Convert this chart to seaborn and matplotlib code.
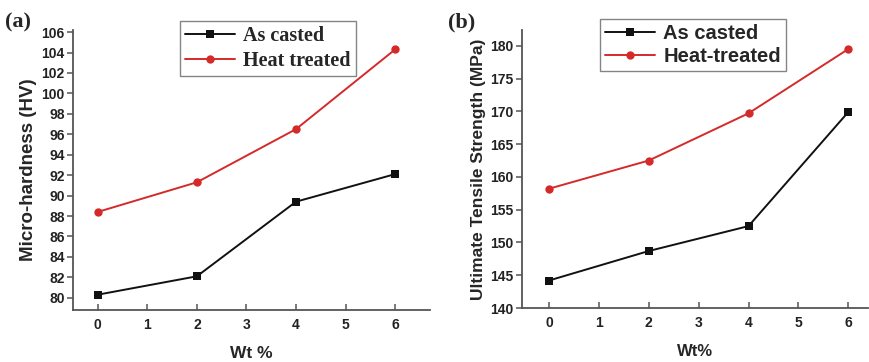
import matplotlib
matplotlib.use("Agg")
import matplotlib.pyplot as plt
import seaborn as sns
import pandas as pd

wt = [0, 2, 4, 6]
hard_cast = [80.3, 82.1, 89.4, 92.1]
hard_heat = [88.4, 91.3, 96.5, 104.3]
uts_cast = [144.2, 148.7, 152.5, 169.9]
uts_heat = [158.2, 162.5, 169.7, 179.5]
x_ticks = [0, 1, 2, 3, 4, 5, 6]
hard_ticks = list(range(80, 107, 2))
uts_ticks = list(range(140, 181, 5))

sns.set_style("ticks")
plt.rcParams['font.family'] = ['Liberation Sans', 'DejaVu Sans']
plt.rcParams['font.weight'] = 'bold'
plt.rcParams['axes.labelweight'] = 'bold'

def make_df(cast, heat, names):
    return pd.DataFrame({
        'wt': wt + wt,
        'val': cast + heat,
        'series': [names[0]] * len(wt) + [names[1]] * len(wt),
    })

fig = plt.figure(figsize=(8.7, 3.62), dpi=100)
axA = fig.add_axes([0.0839, 0.1436, 0.4101, 0.7734])
axB = fig.add_axes([0.600, 0.149, 0.398, 0.768])

SPINE = '#555555'
BLACK = '#111111'
RED = '#d42a2a'

def style_axes(ax, yticks, ylim, xlim):
    ax.set_xlim(*xlim)
    ax.set_ylim(*ylim)
    ax.set_xticks(x_ticks)
    ax.set_yticks(yticks)
    for s in ['top', 'right']:
        ax.spines[s].set_visible(False)
    for s in ['left', 'bottom']:
        ax.spines[s].set_color(SPINE)
        ax.spines[s].set_linewidth(1.3)
    ax.tick_params(axis='x', direction='in', length=4, width=1.1, color=SPINE,
                   labelsize=10, pad=6, labelcolor='#222222')
    ax.tick_params(axis='y', direction='out', length=4, width=1.1, color=SPINE,
                   labelsize=10, pad=2, labelcolor='#222222')

# Panel (a)
namesA = ['As casted', 'Heat treated']
dfA = make_df(hard_cast, hard_heat, namesA)
sns.lineplot(data=dfA, x='wt', y='val', hue='series', style='series',
             markers=['s', 'o'], dashes=False, palette=[BLACK, RED],
             markersize=6, linewidth=1.4, markeredgewidth=0, ax=axA)
style_axes(axA, hard_ticks, (78.8, 106.2), (-0.5, 6.7))
axA.set_xlabel('Wt %', fontsize=12.5, fontweight='bold', labelpad=10)
axA.set_ylabel('Micro-hardness (HV)', fontsize=13.5, fontweight='bold', labelpad=3)
h, l = axA.get_legend_handles_labels()
legA = axA.legend(h, l, loc='upper left', bbox_to_anchor=(0.30, 1.032),
                  borderaxespad=0,
                  prop={'family': 'Liberation Serif', 'weight': 'bold', 'size': 14.5},
                  frameon=True, fancybox=False, edgecolor='#666666',
                  handlelength=2.5, handletextpad=0.4, borderpad=0.25,
                  labelspacing=0.22)
legA.get_frame().set_linewidth(1.0)

# Panel (b)
namesB = ['As casted', 'Heat-treated']
dfB = make_df(uts_cast, uts_heat, namesB)
sns.lineplot(data=dfB, x='wt', y='val', hue='series', style='series',
             markers=['s', 'o'], dashes=False, palette=[BLACK, RED],
             markersize=6, linewidth=1.4, markeredgewidth=0, ax=axB)
style_axes(axB, uts_ticks, (140, 182.4), (-0.54, 6.4))
axB.set_xlabel('Wt%', fontsize=12, fontweight='bold', labelpad=10)
axB.set_ylabel('Ultimate Tensile Strength (MPa)', fontsize=12.5, fontweight='bold', labelpad=3)
h, l = axB.get_legend_handles_labels()
legB = axB.legend(h, l, loc='upper left', bbox_to_anchor=(0.225, 1.04),
                  borderaxespad=0,
                  prop={'family': 'Liberation Sans', 'weight': 'bold', 'size': 14.5},
                  frameon=True, fancybox=False, edgecolor='#666666',
                  handlelength=2.5, handletextpad=0.4, borderpad=0.25,
                  labelspacing=0.22)
legB.get_frame().set_linewidth(1.0)

fig.text(0.006, 0.965, '(a)', fontsize=16, fontweight='bold',
         family='Liberation Serif', va='top', ha='left')
fig.text(0.515, 0.965, '(b)', fontsize=16, fontweight='bold',
         family='Liberation Serif', va='top', ha='left')

fig.savefig('out.png', dpi=100)
